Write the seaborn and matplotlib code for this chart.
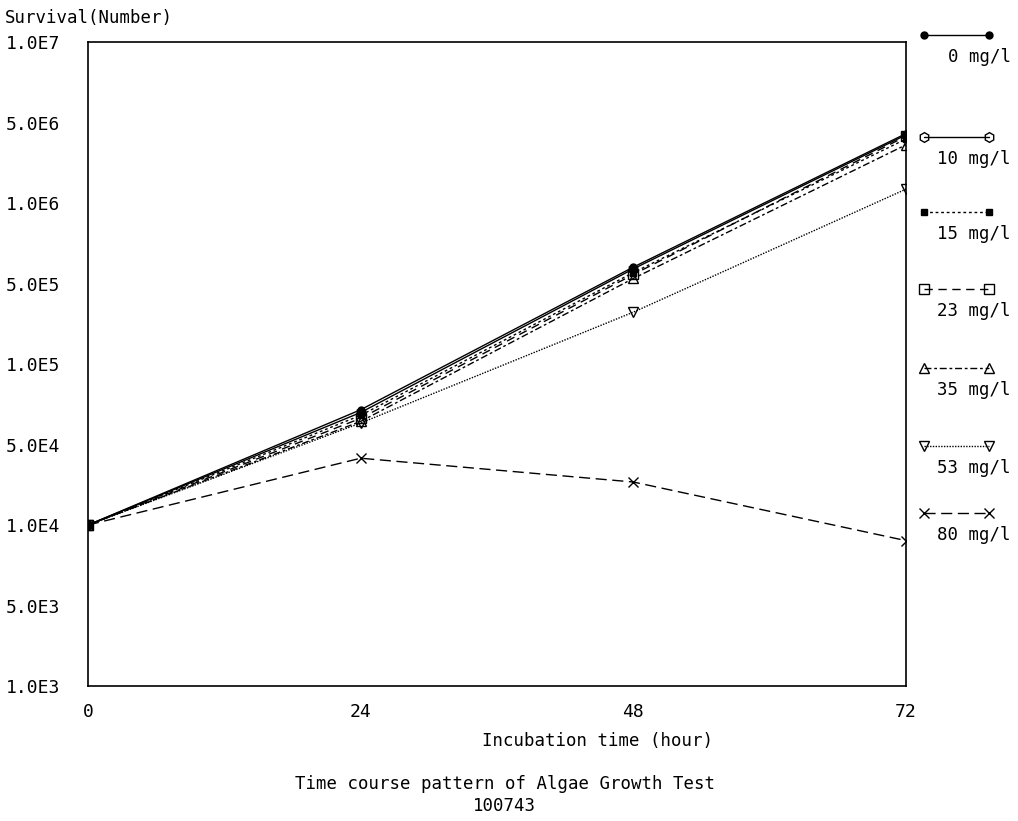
import matplotlib
matplotlib.use('Agg')
import matplotlib.pyplot as plt
import seaborn as sns
import numpy as np
import pandas as pd

sns.set_style('white')
plt.rcParams['font.family'] = ['DejaVu Sans Mono', 'DejaVu Sans']
plt.rcParams['text.color'] = 'black'
plt.rcParams['xtick.color'] = 'black'
plt.rcParams['ytick.color'] = 'black'

# data
hours = [0, 24, 48, 72]
conc_labels = ['0 mg/l', '10 mg/l', '15 mg/l', '23 mg/l', '35 mg/l', '53 mg/l', '80 mg/l']
s0 = [1.0e4, 5.2e4, 4.0e5, 2.7e6]
s10 = [1.0e4, 5.0e4, 3.9e5, 2.65e6]
s15 = [1.0e4, 4.8e4, 3.7e5, 2.5e6]
s23 = [1.0e4, 4.6e4, 3.6e5, 2.6e6]
s35 = [1.0e4, 4.4e4, 3.4e5, 2.3e6]
s53 = [1.0e4, 4.3e4, 2.1e5, 1.22e6]
s80 = [1.0e4, 2.6e4, 1.85e4, 8.0e3]
series = [s0, s10, s15, s23, s35, s53, s80]

ytick_vals = [1e3, 10**3.5, 1e4, 10**4.5, 1e5, 10**5.5, 1e6, 10**6.5, 1e7]
ytick_labels = ['1.0E3', '5.0E3', '1.0E4', '5.0E4', '1.0E5', '5.0E5', '1.0E6', '5.0E6', '1.0E7']

# styles per series
markers = ['o', 'h', 's', 's', '^', 'v', 'x']
fills = ['k', 'none', 'k', 'none', 'none', 'none', 'k']
msizes = [5, 7, 4, 7, 7, 7, 7]
dashes = [(None, None), (None, None), (2, 2), (6, 4), (5, 2, 2, 2), (1, 1), (8, 4)]

fig = plt.figure(figsize=(10.18, 8.21), dpi=100)
ax = fig.add_axes([0.0864, 0.1644, 0.8036, 0.7844])

for i, vals in enumerate(series):
    df = pd.DataFrame({'hour': hours, 'value': vals})
    sns.lineplot(data=df, x='hour', y='value', ax=ax, color='black', lw=1,
                 marker=markers[i], markersize=msizes[i], markerfacecolor=fills[i],
                 markeredgecolor='black', markeredgewidth=1)
    ln = ax.lines[-1]
    if dashes[i][0] is not None:
        ln.set_dashes(dashes[i])

ax.set_yscale('log')
ax.set_ylim(1e3, 1e7)
ax.set_xlim(0, 72)
ax.set_yticks(ytick_vals)
ax.set_yticklabels(ytick_labels)
ax.minorticks_off()
ax.set_xticks(hours)
ax.set_xticklabels([str(h) for h in hours])
ax.tick_params(axis='y', direction='in', length=4, labelsize=13, pad=20)
ax.tick_params(axis='x', direction='in', length=4, labelsize=13, pad=12)
for sp in ax.spines.values():
    sp.set_color('black')
    sp.set_linewidth(1.2)
ax.set_xlabel('')
ax.set_ylabel('')

fig.text(0.005, 0.978, 'Survival(Number)', fontsize=12.5, ha='left', va='center')
fig.text(0.587, 0.098, 'Incubation time (hour)', fontsize=12.5, ha='center', va='center')
fig.text(0.496, 0.045, 'Time course pattern of Algae Growth Test', fontsize=12.5, ha='center', va='center')
fig.text(0.496, 0.018, '100743', fontsize=12.5, ha='center', va='center')

# custom legend to the right
legend_rows = [35, 137, 212, 289, 368, 446, 513]
lax = fig.add_axes([0.9, 0.0, 0.1, 1.0])
lax.set_xlim(0, 1)
lax.set_ylim(821, 0)
lax.axis('off')
for i, lab in enumerate(conc_labels):
    y = legend_rows[i]
    ln, = lax.plot([0.08, 0.72], [y, y], color='black', lw=1,
                   marker=markers[i], markersize=msizes[i], markerfacecolor=fills[i],
                   markeredgecolor='black')
    if dashes[i][0] is not None:
        ln.set_dashes(dashes[i])
    lax.text(0.93, y + 22, lab, fontsize=12.5, ha='right', va='center')

fig.savefig('out.png', dpi=100)
